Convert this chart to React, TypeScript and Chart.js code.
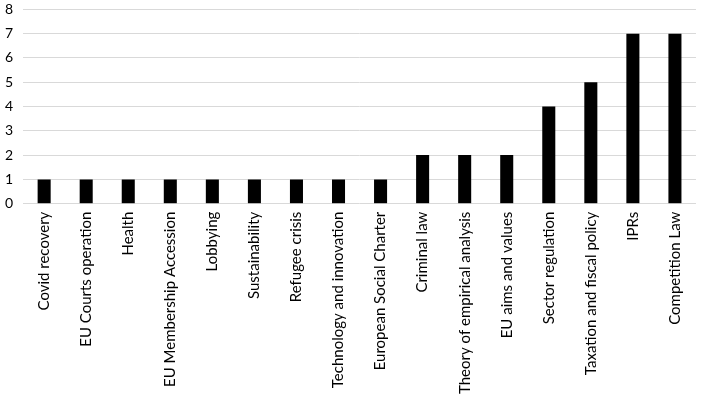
import React, { useEffect, useRef } from 'react';
import { Chart, registerables } from 'chart.js';

Chart.register(...registerables);

const categories = [
  'Covid recovery',
  'EU Courts operation',
  'Health',
  'EU Membership Accession',
  'Lobbying',
  'Sustainability',
  'Refugee crisis',
  'Technology and innovation',
  'European Social Charter',
  'Criminal law',
  'Theory of empirical analysis',
  'EU aims and values',
  'Sector regulation',
  'Taxation and fiscal policy',
  'IPRs',
  'Competition Law',
];

const counts = [1, 1, 1, 1, 1, 1, 1, 1, 1, 2, 2, 2, 4, 5, 7, 7];

const FONT = 'Lato, "Open Sans", sans-serif';

const App: React.FC = () => {
  const canvasRef = useRef<HTMLCanvasElement>(null);
  const chartRef = useRef<Chart | null>(null);

  useEffect(() => {
    document.body.style.margin = '0';
    if (!canvasRef.current) return;
    const ctx = canvasRef.current.getContext('2d');
    if (!ctx) return;

    chartRef.current = new Chart(ctx, {
      type: 'bar',
      data: {
        labels: categories,
        datasets: [
          {
            data: counts,
            backgroundColor: '#000000',
            barPercentage: 0.62,
            categoryPercentage: 0.5,
          },
        ],
      },
      options: {
        responsive: true,
        maintainAspectRatio: false,
        animation: false,
        layout: { padding: { top: 0, right: 2, bottom: 4, left: -5 } },
        plugins: {
          legend: { display: false },
          tooltip: { enabled: false },
        },
        scales: {
          x: {
            grid: { display: false, drawTicks: false },
            border: { display: false },
            ticks: {
              maxRotation: 90,
              minRotation: 90,
              autoSkip: false,
              padding: 8,
              color: '#000000',
              font: { family: FONT, size: 15 },
            },
          },
          y: {
            min: 0,
            max: 8,
            grid: { color: '#d9d9d9', lineWidth: 1, drawTicks: false },
            border: { display: false },
            ticks: {
              stepSize: 1,
              padding: 10,
              color: '#000000',
              font: { family: FONT, size: 14 },
            },
          },
        },
      },
    });

    return () => {
      if (chartRef.current) {
        chartRef.current.destroy();
        chartRef.current = null;
      }
    };
  }, []);

  return (
    <div style={{ width: 701, height: 406, overflow: 'hidden', background: '#ffffff' }}>
      <div style={{ width: 701, height: 415, marginTop: -9, position: 'relative' }}>
        <canvas ref={canvasRef} />
      </div>
    </div>
  );
};

export default App;
